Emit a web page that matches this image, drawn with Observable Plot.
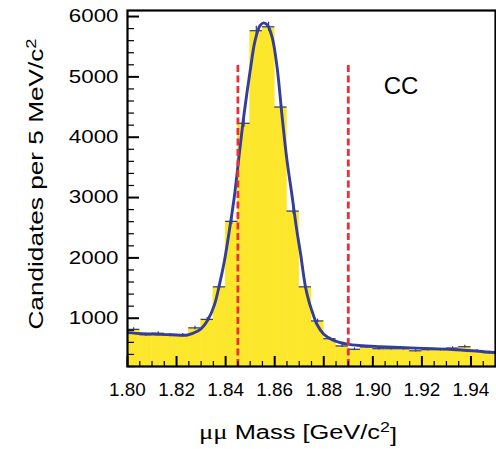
<!DOCTYPE html>
<html><head><meta charset="utf-8">
<script src="https://cdn.jsdelivr.net/npm/d3@7"></script>
<script src="https://cdn.jsdelivr.net/npm/@observablehq/plot@0.6"></script>
<style>body{margin:0;background:#fff} svg{display:block}</style>
</head><body><div id="chart"></div>
<script>
// Histogram bins (lower edges, GeV/c^2), 5 MeV wide
const binLow = [1.800,1.805,1.810,1.815,1.820,1.825,1.830,1.835,1.840,1.845,
                1.850,1.855,1.860,1.865,1.870,1.875,1.880,1.885,1.890,1.895,
                1.900,1.905,1.910,1.915,1.920,1.925,1.930,1.935,1.940,1.945];
const binWidth = 0.005;
const counts = [815,725,750,720,720,840,980,1520,2605,4230,
                5765,5830,4500,2775,1520,955,660,540,485,525,
                495,495,495,460,478,478,505,528,460,430];
// Fit curve
const fitMass  = [1.800,1.806,1.812,1.818,1.8245,1.8285,1.830,1.8328,1.8355,1.8375,
                  1.8395,1.8415,1.8435,1.8455,1.8475,1.850,1.852,1.854,1.8555,1.857,
                  1.859,1.861,1.863,1.865,1.867,1.869,1.8705,1.8725,1.874,1.8752,
                  1.8772,1.880,1.884,1.8895,1.896,1.903,1.911,1.921,1.931,1.9495];
const fitValue = [762,745,735,726,722,785,825,975,1230,1560,
                  1950,2450,3000,3700,4380,5100,5600,5850,5895,5860,
                  5650,5150,4350,3620,3050,2460,2080,1530,1270,1120,
                  900,735,632,570,545,530,514,500,487,432];
const cutLines = [1.845, 1.890];
const cutTop = 5200;
const xMajor = [1.80,1.82,1.84,1.86,1.88,1.90,1.92,1.94];
const xMinor = [1.805,1.810,1.815,1.825,1.830,1.835,1.845,1.850,1.855,1.865,1.870,1.875,
                1.885,1.890,1.895,1.905,1.910,1.915,1.925,1.930,1.935,1.945];
const yMajor = [1000,2000,3000,4000,5000,6000];
const yMinor = [200,400,600,800,1200,1400,1600,1800,2200,2400,2600,2800,3200,3400,3600,3800,
                4200,4400,4600,4800,5200,5400,5600,5800];
const xDomain = [1.80, 1.95];
const yDomain = [200, 6100];
const label = "CC";

const bins = binLow.map((lo, i) => ({x1: lo, x2: lo + binWidth, xc: lo + binWidth/2,
  y: counts[i], lo: counts[i] - Math.sqrt(counts[i]), hi: counts[i] + Math.sqrt(counts[i])}));
const fit = fitMass.map((m, i) => ({x: m, y: fitValue[i]}));

const font = "Liberation Sans, Arial, Helvetica, sans-serif";
const plot = Plot.plot({
  width: 496, height: 449,
  marginLeft: 127, marginRight: 1, marginTop: 10, marginBottom: 83,
  style: {fontFamily: font, background: "white", color: "black"},
  x: {domain: xDomain},
  y: {domain: yDomain},
  marks: [
    Plot.rectY(bins, {x1: "x1", x2: "x2", y: "y", fill: "#fce72c", stroke: "#fce72c", strokeWidth: 0.5, clip: true}),
    Plot.ruleY(bins, {x1: "x1", x2: "x2", y: "y", stroke: "#2e3a92", strokeWidth: 1.2}),
    Plot.ruleX(bins, {x: "xc", y1: "lo", y2: "hi", stroke: "#2e3a92", strokeWidth: 1.2}),
    Plot.line(fit, {x: "x", y: "y", stroke: "#343d9a", strokeWidth: 2.9, curve: "catmull-rom", clip: true}),
    Plot.ruleX(cutLines, {y1: yDomain[0], y2: cutTop, stroke: "#e8303a", strokeWidth: 2.8, strokeDasharray: "7,3.5"}),
    Plot.text([label], {x: 1.9115, y: 4850, text: d => d, fontSize: 24, fill: "black", ariaLabel: "cc-label"}),
    Plot.axisY(yMajor, {anchor: "left", tickSize: 0, tickPadding: 9, fontSize: 18, tickFormat: d => String(d), label: null}),
    Plot.axisY(yMajor, {anchor: "right", frameAnchor: "left", tickSize: 11, strokeWidth: 2, tickFormat: () => "", label: null}),
    Plot.axisY(yMinor, {anchor: "right", frameAnchor: "left", tickSize: 6, strokeWidth: 1.2, tickFormat: () => "", label: null}),
    Plot.axisX(xMajor, {anchor: "bottom", tickSize: 0, tickPadding: 17, fontSize: 17.5, tickFormat: d3.format(".2f"), label: null}),
    Plot.axisX(xMajor, {anchor: "top", frameAnchor: "bottom", tickSize: 11, strokeWidth: 2, tickFormat: () => "", label: null}),
    Plot.axisX(xMinor, {anchor: "top", frameAnchor: "bottom", tickSize: 6, strokeWidth: 1.2, tickFormat: () => "", label: null}),
    Plot.frame({stroke: "black", strokeWidth: 2.2})
  ]
});
document.getElementById("chart").appendChild(plot);

const svg = d3.select(plot);
// widen glyphs horizontally like the reference lettering
function widen(sel, s) {
  sel.each(function() {
    const x = +this.getAttribute("x") || 0, y = +this.getAttribute("y") || 0;
    const t = this.getAttribute("transform") || "";
    this.setAttribute("transform", `${t} translate(${x},${y}) scale(${s},1) translate(${-x},${-y})`);
  });
}
widen(svg.selectAll('g[aria-label="y-axis tick label"] text'), 1.24);
widen(svg.selectAll('g[aria-label="x-axis tick label"] text'), 1.08);
widen(svg.selectAll('g[aria-label="cc-label"] text'), 1.12);

// Y title
const yt = svg.append("text")
  .attr("transform", "translate(43,184) rotate(-90) scale(1.31,1)")
  .attr("text-anchor", "middle")
  .attr("font-family", font).attr("font-size", 20).attr("fill", "black");
yt.append("tspan").text("Candidates per 5 MeV/c");
yt.append("tspan").attr("dy", "-0.5em").attr("font-size", 14).text("2");
// X title
const xt = svg.append("text")
  .attr("transform", "translate(298,439) scale(1.27,1)")
  .attr("text-anchor", "middle")
  .attr("font-family", font).attr("font-size", 20).attr("fill", "black");
xt.append("tspan").attr("font-family", "Liberation Serif, DejaVu Serif, serif").attr("font-size", 21).text("μμ");
xt.append("tspan").text(" Mass [GeV/c");
xt.append("tspan").attr("dy", "-0.5em").attr("font-size", 14).text("2");
xt.append("tspan").attr("dy", "0.5em").text("]");
</script>
</body></html>
